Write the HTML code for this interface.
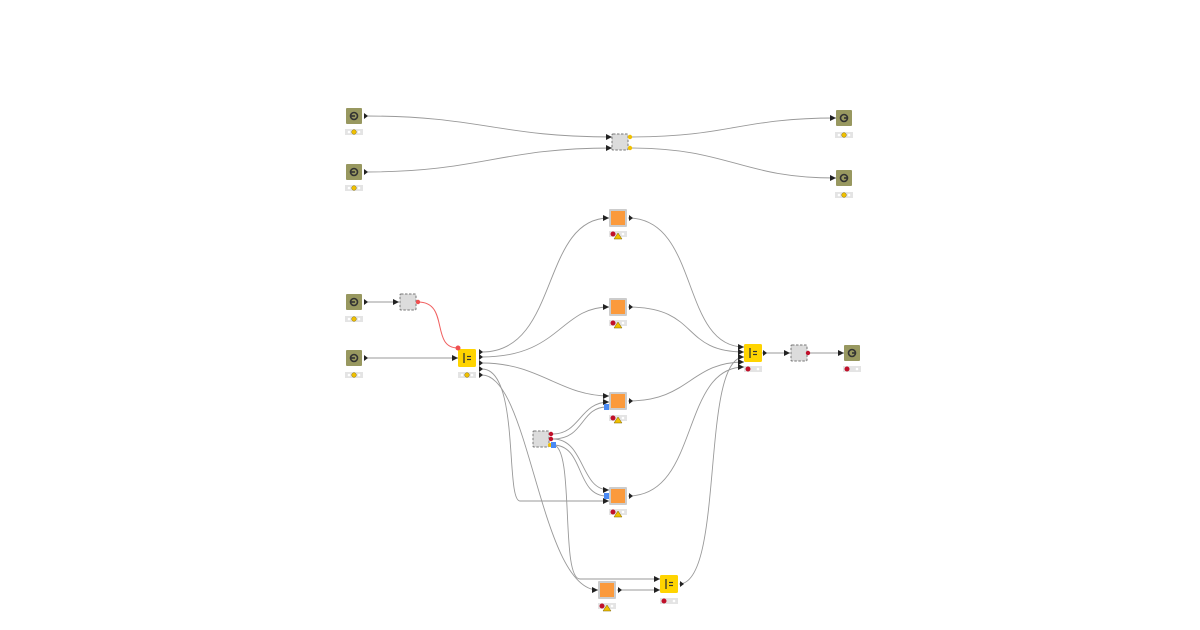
<!DOCTYPE html>
<html><head><meta charset="utf-8"><style>
html,body{margin:0;padding:0;background:#fff;width:1200px;height:630px;overflow:hidden}
svg{display:block}
</style></head><body>
<svg width="1200" height="630" viewBox="0 0 1200 630" xmlns="http://www.w3.org/2000/svg">
<defs>
<g id="st"><rect x="-9" y="0" width="18" height="6" fill="#e4e4e4"/><circle cx="-5" cy="3" r="1.3" fill="#fff"/><circle cx="5" cy="3" r="1.3" fill="#fff"/></g>
<g id="stY"><use href="#st"/><circle cx="0" cy="3" r="2.3" fill="#f0c000" stroke="#8a7000" stroke-width="0.5"/></g>
<g id="stR"><use href="#st"/><circle cx="-5" cy="3" r="2.5" fill="#c0102a"/></g>
<g id="stW"><use href="#st"/><circle cx="-5" cy="3" r="2.5" fill="#c0102a"/><polygon points="0,0 4,6 -4,6" fill="#f0c000" stroke="#7a6000" stroke-width="0.5" transform="translate(0,2)"/></g>
<g id="src"><rect x="-8" y="-8" width="16" height="16" fill="#989860" rx="1"/><circle cx="0" cy="0" r="3.5" fill="none" stroke="#333" stroke-width="1.6"/><line x1="-4" y1="0" x2="1" y2="0" stroke="#333" stroke-width="1.6"/></g>
<g id="dst"><rect x="-8" y="-8" width="16" height="16" fill="#989860" rx="1"/><circle cx="0" cy="0" r="3.5" fill="none" stroke="#333" stroke-width="1.6"/><line x1="0" y1="0" x2="4" y2="0" stroke="#333" stroke-width="1.6"/></g>
<g id="meta"><rect x="-8" y="-8" width="16" height="16" fill="#dcdcdc" stroke="#777" stroke-width="1" stroke-dasharray="2.5,1.5" rx="1"/></g>
<g id="org"><rect x="-9" y="-9" width="18" height="18" fill="#cccccc" rx="1"/><rect x="-7" y="-7" width="14" height="14" fill="#fb9a3c"/></g>
<g id="yel"><rect x="-9" y="-9" width="18" height="18" fill="#ffd400" rx="1.5"/><line x1="-3" y1="-5" x2="-3" y2="5" stroke="#333" stroke-width="1.3"/><line x1="0" y1="-1.5" x2="4" y2="-1.5" stroke="#333" stroke-width="1.2"/><line x1="0" y1="1.5" x2="4" y2="1.5" stroke="#333" stroke-width="1.2"/></g>
</defs>
<g fill="none" stroke="#999" stroke-width="0.9">
<path d="M366,116 C480,116 500,137 612,137"/>
<path d="M366,172 C480,172 500,148 612,148"/>
<path d="M630,137 C730,137 740,118 836,118"/>
<path d="M630,148 C730,148 740,178 836,178"/>
<path d="M366,302 L399,302"/>
<path d="M366,358 L458,358"/>
<path d="M482,352 C560,352 540,218 609,218"/>
<path d="M482,357 C560,357 560,307 609,307"/>
<path d="M482,363 C540,363 560,396 609,396"/>
<path d="M482,369 C520,369 505,501 520,501 L609,501"/>
<path d="M482,375 C530,375 540,590 598,590"/>
<path d="M553,434 C580,434 580,402 609,402"/>
<path d="M553,439 C585,439 580,407 607,407"/>
<path d="M553,439 C585,439 580,490 609,490"/>
<path d="M553,445 C585,445 575,496 607,496"/>
<path d="M553,445 C575,445 560,579 580,579 L660,579"/>
<path d="M617,590 L660,590"/>
<path d="M628,218 C700,218 680,347 744,347"/>
<path d="M628,307 C700,307 680,352 744,352"/>
<path d="M628,401 C690,401 690,362 744,362"/>
<path d="M628,496 C700,496 680,367 744,367"/>
<path d="M679,584 C725,584 700,357 744,357"/>
<path d="M762,353 L790,353"/>
<path d="M808,353 L844,353"/>
</g>
<path d="M418,302 C450,302 430,348 458,348" fill="none" stroke="#f06060" stroke-width="1"/>
<g fill="#222">
<path d="M612,137 l-6,-3 v6z"/><path d="M612,148 l-6,-3 v6z"/>
<path d="M836,118 l-6,-3 v6z"/><path d="M836,178 l-6,-3 v6z"/>
<path d="M399,302 l-6,-3 v6z"/><path d="M458,358 l-6,-3 v6z"/>
<path d="M609,218 l-6,-3 v6z"/><path d="M609,307 l-6,-3 v6z"/>
<path d="M609,396 l-6,-3 v6z"/><path d="M609,402 l-6,-3 v6z"/>
<path d="M609,490 l-6,-3 v6z"/><path d="M609,501 l-6,-3 v6z"/>
<path d="M598,590 l-6,-3 v6z"/><path d="M660,579 l-6,-3 v6z"/><path d="M660,590 l-6,-3 v6z"/>
<path d="M744,347 l-6,-3 v6z"/><path d="M744,352 l-6,-3 v6z"/><path d="M744,357 l-6,-3 v6z"/><path d="M744,362 l-6,-3 v6z"/><path d="M744,367 l-6,-3 v6z"/>
<path d="M790,353 l-6,-3 v6z"/><path d="M844,353 l-6,-3 v6z"/>
<path d="M368,116 l-4,-3 v6z"/><path d="M368,172 l-4,-3 v6z"/><path d="M368,302 l-4,-3 v6z"/><path d="M368,358 l-4,-3 v6z"/>
<path d="M483,352 l-4,-3 v6z"/><path d="M483,357 l-4,-3 v6z"/><path d="M483,363 l-4,-3 v6z"/><path d="M483,369 l-4,-3 v6z"/><path d="M483,375 l-4,-3 v6z"/>
<path d="M633,218 l-4,-3 v6z"/><path d="M633,307 l-4,-3 v6z"/><path d="M633,401 l-4,-3 v6z"/><path d="M633,496 l-4,-3 v6z"/><path d="M622,590 l-4,-3 v6z"/>
<path d="M684,584 l-4,-3 v6z"/><path d="M767,353 l-4,-3 v6z"/>
</g>
<use href="#src" x="354" y="116"/><use href="#stY" x="354" y="129"/>
<use href="#src" x="354" y="172"/><use href="#stY" x="354" y="185"/>
<use href="#meta" x="620" y="142"/>
<circle cx="630" cy="137" r="2.2" fill="#f0c000"/><circle cx="630" cy="148" r="2.2" fill="#f0c000"/>
<use href="#dst" x="844" y="118"/><use href="#stY" x="844" y="132"/>
<use href="#dst" x="844" y="178"/><use href="#stY" x="844" y="192"/>
<use href="#src" x="354" y="302"/><use href="#stY" x="354" y="316"/>
<use href="#src" x="354" y="358"/><use href="#stY" x="354" y="372"/>
<use href="#meta" x="408" y="302"/><circle cx="418" cy="302" r="2.2" fill="#f05050"/>
<use href="#yel" x="467" y="358"/><circle cx="458" cy="348" r="2.5" fill="#f05050"/><use href="#stY" x="467" y="372"/>
<use href="#org" x="618" y="218"/><use href="#stW" x="618" y="231"/>
<use href="#org" x="618" y="307"/><use href="#stW" x="618" y="320"/>
<use href="#org" x="618" y="401"/><use href="#stW" x="618" y="415"/><rect x="604" y="404" width="5" height="6" fill="#4a8af4"/>
<use href="#org" x="618" y="496"/><use href="#stW" x="618" y="509"/><rect x="604" y="493" width="5" height="6" fill="#4a8af4"/>
<use href="#org" x="607" y="590"/><use href="#stW" x="607" y="603"/>
<use href="#meta" x="541" y="439"/>
<circle cx="551" cy="434" r="2.2" fill="#c0102a"/><circle cx="551" cy="439" r="2.2" fill="#c0102a"/><circle cx="550" cy="445" r="2" fill="#f0c000"/><rect x="551" y="442" width="5" height="6" fill="#4a8af4"/>
<use href="#yel" x="669" y="584"/><use href="#stR" x="669" y="598"/>
<use href="#yel" x="753" y="353"/><use href="#stR" x="753" y="366"/>
<use href="#meta" x="799" y="353"/><circle cx="808" cy="353" r="2.2" fill="#c0102a"/>
<use href="#dst" x="852" y="353"/><use href="#stR" x="852" y="366"/>
</svg>
</body></html>
